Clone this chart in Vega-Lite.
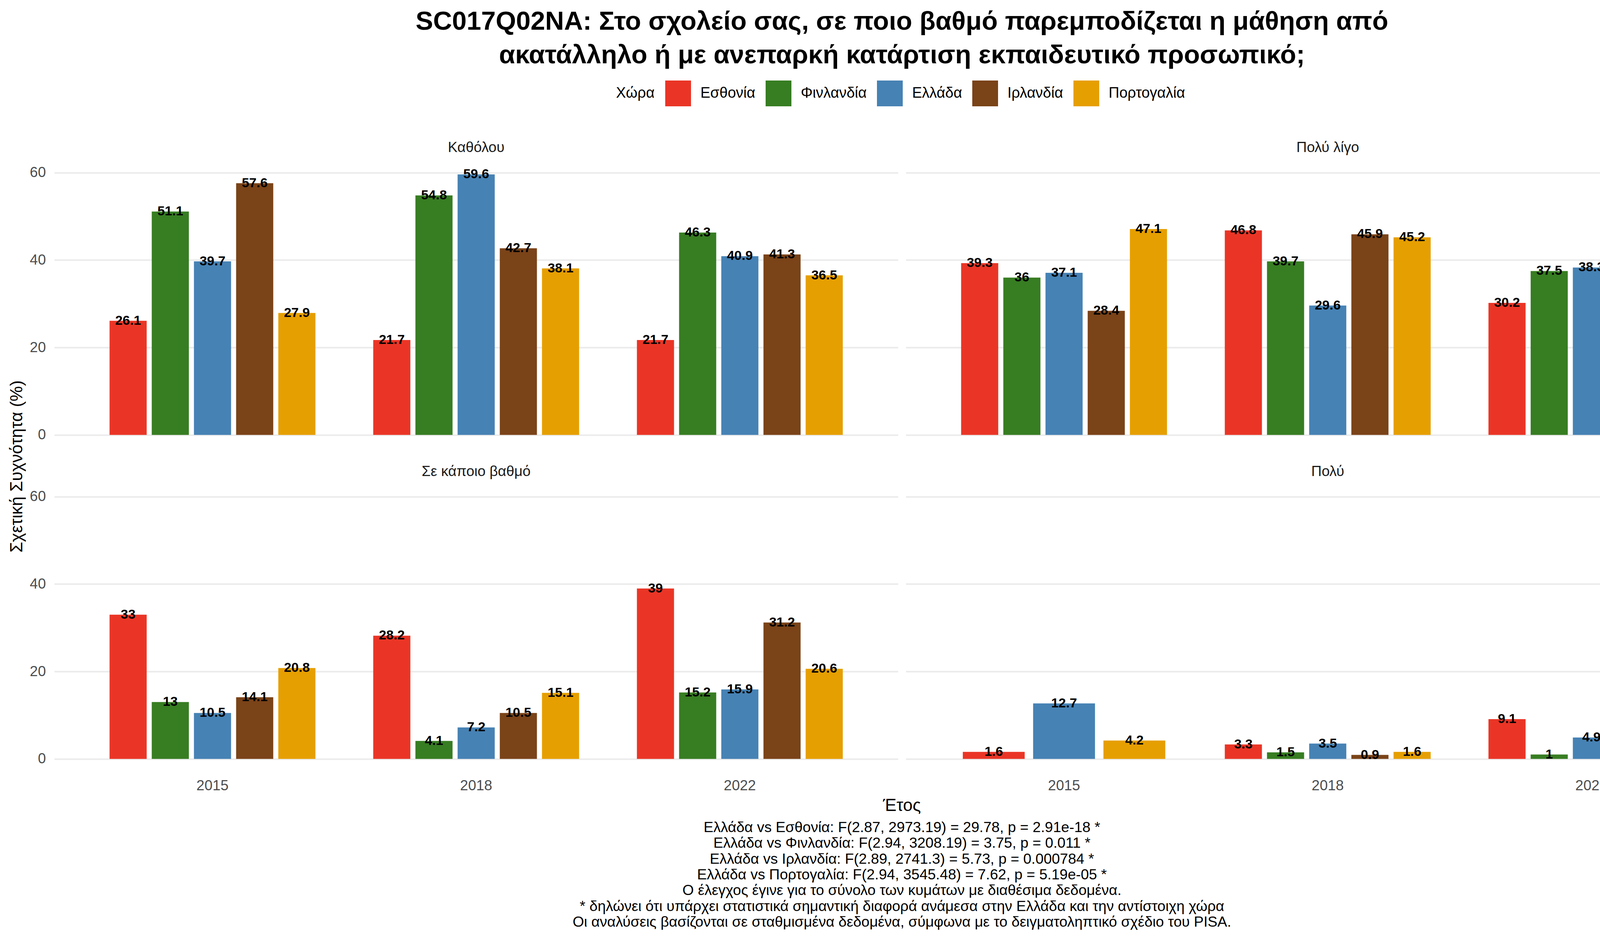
{
  "$schema": "https://vega.github.io/schema/vega-lite/v6.json",
  "padding": {"left": 21, "top": 0, "right": 0, "bottom": 0},
  "config": {
    "font": "Liberation Sans",
    "view": {"stroke": null, "fill": "white"}
  },
  "datasets": {
    "freq": [
      {"panel": "Καθόλου", "year": "2015", "country": "Εσθονία", "value": 26.1},
      {"panel": "Καθόλου", "year": "2015", "country": "Φινλανδία", "value": 51.1},
      {"panel": "Καθόλου", "year": "2015", "country": "Ελλάδα", "value": 39.7},
      {"panel": "Καθόλου", "year": "2015", "country": "Ιρλανδία", "value": 57.6},
      {"panel": "Καθόλου", "year": "2015", "country": "Πορτογαλία", "value": 27.9},
      {"panel": "Καθόλου", "year": "2018", "country": "Εσθονία", "value": 21.7},
      {"panel": "Καθόλου", "year": "2018", "country": "Φινλανδία", "value": 54.8},
      {"panel": "Καθόλου", "year": "2018", "country": "Ελλάδα", "value": 59.6},
      {"panel": "Καθόλου", "year": "2018", "country": "Ιρλανδία", "value": 42.7},
      {"panel": "Καθόλου", "year": "2018", "country": "Πορτογαλία", "value": 38.1},
      {"panel": "Καθόλου", "year": "2022", "country": "Εσθονία", "value": 21.7},
      {"panel": "Καθόλου", "year": "2022", "country": "Φινλανδία", "value": 46.3},
      {"panel": "Καθόλου", "year": "2022", "country": "Ελλάδα", "value": 40.9},
      {"panel": "Καθόλου", "year": "2022", "country": "Ιρλανδία", "value": 41.3},
      {"panel": "Καθόλου", "year": "2022", "country": "Πορτογαλία", "value": 36.5},
      {"panel": "Πολύ λίγο", "year": "2015", "country": "Εσθονία", "value": 39.3},
      {"panel": "Πολύ λίγο", "year": "2015", "country": "Φινλανδία", "value": 36},
      {"panel": "Πολύ λίγο", "year": "2015", "country": "Ελλάδα", "value": 37.1},
      {"panel": "Πολύ λίγο", "year": "2015", "country": "Ιρλανδία", "value": 28.4},
      {"panel": "Πολύ λίγο", "year": "2015", "country": "Πορτογαλία", "value": 47.1},
      {"panel": "Πολύ λίγο", "year": "2018", "country": "Εσθονία", "value": 46.8},
      {"panel": "Πολύ λίγο", "year": "2018", "country": "Φινλανδία", "value": 39.7},
      {"panel": "Πολύ λίγο", "year": "2018", "country": "Ελλάδα", "value": 29.6},
      {"panel": "Πολύ λίγο", "year": "2018", "country": "Ιρλανδία", "value": 45.9},
      {"panel": "Πολύ λίγο", "year": "2018", "country": "Πορτογαλία", "value": 45.2},
      {"panel": "Πολύ λίγο", "year": "2022", "country": "Εσθονία", "value": 30.2},
      {"panel": "Πολύ λίγο", "year": "2022", "country": "Φινλανδία", "value": 37.5},
      {"panel": "Πολύ λίγο", "year": "2022", "country": "Ελλάδα", "value": 38.3},
      {"panel": "Πολύ λίγο", "year": "2022", "country": "Ιρλανδία", "value": 23.1},
      {"panel": "Πολύ λίγο", "year": "2022", "country": "Πορτογαλία", "value": 39.1},
      {"panel": "Σε κάποιο βαθμό", "year": "2015", "country": "Εσθονία", "value": 33},
      {"panel": "Σε κάποιο βαθμό", "year": "2015", "country": "Φινλανδία", "value": 13},
      {"panel": "Σε κάποιο βαθμό", "year": "2015", "country": "Ελλάδα", "value": 10.5},
      {"panel": "Σε κάποιο βαθμό", "year": "2015", "country": "Ιρλανδία", "value": 14.1},
      {"panel": "Σε κάποιο βαθμό", "year": "2015", "country": "Πορτογαλία", "value": 20.8},
      {"panel": "Σε κάποιο βαθμό", "year": "2018", "country": "Εσθονία", "value": 28.2},
      {"panel": "Σε κάποιο βαθμό", "year": "2018", "country": "Φινλανδία", "value": 4.1},
      {"panel": "Σε κάποιο βαθμό", "year": "2018", "country": "Ελλάδα", "value": 7.2},
      {"panel": "Σε κάποιο βαθμό", "year": "2018", "country": "Ιρλανδία", "value": 10.5},
      {"panel": "Σε κάποιο βαθμό", "year": "2018", "country": "Πορτογαλία", "value": 15.1},
      {"panel": "Σε κάποιο βαθμό", "year": "2022", "country": "Εσθονία", "value": 39},
      {"panel": "Σε κάποιο βαθμό", "year": "2022", "country": "Φινλανδία", "value": 15.2},
      {"panel": "Σε κάποιο βαθμό", "year": "2022", "country": "Ελλάδα", "value": 15.9},
      {"panel": "Σε κάποιο βαθμό", "year": "2022", "country": "Ιρλανδία", "value": 31.2},
      {"panel": "Σε κάποιο βαθμό", "year": "2022", "country": "Πορτογαλία", "value": 20.6},
      {"panel": "Πολύ", "year": "2015", "country": "Εσθονία", "value": 1.6},
      {"panel": "Πολύ", "year": "2015", "country": "Ελλάδα", "value": 12.7},
      {"panel": "Πολύ", "year": "2015", "country": "Πορτογαλία", "value": 4.2},
      {"panel": "Πολύ", "year": "2018", "country": "Εσθονία", "value": 3.3},
      {"panel": "Πολύ", "year": "2018", "country": "Φινλανδία", "value": 1.5},
      {"panel": "Πολύ", "year": "2018", "country": "Ελλάδα", "value": 3.5},
      {"panel": "Πολύ", "year": "2018", "country": "Ιρλανδία", "value": 0.9},
      {"panel": "Πολύ", "year": "2018", "country": "Πορτογαλία", "value": 1.6},
      {"panel": "Πολύ", "year": "2022", "country": "Εσθονία", "value": 9.1},
      {"panel": "Πολύ", "year": "2022", "country": "Φινλανδία", "value": 1},
      {"panel": "Πολύ", "year": "2022", "country": "Ελλάδα", "value": 4.9},
      {"panel": "Πολύ", "year": "2022", "country": "Ιρλανδία", "value": 4.3},
      {"panel": "Πολύ", "year": "2022", "country": "Πορτογαλία", "value": 3.7}
    ],
    "heading": [
      {"line": "1", "text": "SC017Q02NA: Στο σχολείο σας, σε ποιο βαθμό παρεμποδίζεται η μάθηση από"},
      {"line": "2", "text": "ακατάλληλο ή με ανεπαρκή κατάρτιση εκπαιδευτικό προσωπικό;"}
    ],
    "notes": [
      {"line": "1", "text": "Ελλάδα vs Εσθονία: F(2.87, 2973.19) = 29.78, p = 2.91e-18 *"},
      {"line": "2", "text": "Ελλάδα vs Φινλανδία: F(2.94, 3208.19) = 3.75, p = 0.011 *"},
      {"line": "3", "text": "Ελλάδα vs Ιρλανδία: F(2.89, 2741.3) = 5.73, p = 0.000784 *"},
      {"line": "4", "text": "Ελλάδα vs Πορτογαλία: F(2.94, 3545.48) = 7.62, p = 5.19e-05 *"},
      {"line": "5", "text": "Ο έλεγχος έγινε για το σύνολο των κυμάτων με διαθέσιμα δεδομένα."},
      {"line": "6", "text": "* δηλώνει ότι υπάρχει στατιστικά σημαντική διαφορά ανάμεσα στην Ελλάδα και την αντίστοιχη χώρα"},
      {"line": "7", "text": "Οι αναλύσεις βασίζονται σε σταθμισμένα δεδομένα, σύμφωνα με το δειγματοληπτικό σχέδιο του PISA."}
    ]
  },
  "spacing": 12,
  "vconcat": [
    {
      "width": 4340,
      "height": 347,
      "data": {"name": "heading"},
      "layer": [
        {
          "mark": {"type": "text", "fontSize": 67, "fontWeight": "bold", "color": "black", "align": "center", "baseline": "middle"},
          "encoding": {
            "x": {"datum": 0.5, "type": "quantitative", "scale": {"domain": [0, 1]}, "axis": null},
            "y": {"field": "line", "type": "ordinal", "axis": null, "scale": {"type": "band", "paddingInner": 0, "paddingOuter": 1.2532, "align": 0.07}},
            "text": {"field": "text"}
          }
        },
        {
          "data": {"values": [{"part": "PISA"}]},
          "mark": {"type": "text", "fontSize": 50, "fontWeight": "bold", "color": "#EE4527", "align": "right", "baseline": "middle", "dy": -15},
          "encoding": {
            "x": {"datum": 0.9779, "type": "quantitative"},
            "y": {"datum": "1", "type": "ordinal"},
            "text": {"field": "part"}
          }
        },
        {
          "data": {"values": [{"part": "4"}]},
          "mark": {"type": "point", "filled": false, "stroke": "#24468F", "strokeWidth": 6, "opacity": 1, "size": 2500,
            "shape": "M-0.35,-0.8H0.35A0.15,0.15 0 0 1 0.5,-0.65V0.05A0.15,0.15 0 0 1 0.35,0.2H-0.35A0.15,0.15 0 0 1 -0.5,0.05V-0.65A0.15,0.15 0 0 1 -0.35,-0.8Z"},
          "encoding": {
            "x": {"datum": 0.9855, "type": "quantitative"},
            "y": {"datum": "1", "type": "ordinal"}
          }
        },
        {
          "data": {"values": [{"part": "4"}]},
          "mark": {"type": "text", "fontSize": 42, "fontWeight": "bold", "color": "#1F57A4", "align": "center", "baseline": "middle", "dy": -15},
          "encoding": {
            "x": {"datum": 0.9855, "type": "quantitative"},
            "y": {"datum": "1", "type": "ordinal"},
            "text": {"field": "part"}
          }
        },
        {
          "data": {"values": [{"part": "U"}]},
          "mark": {"type": "text", "fontSize": 52, "fontWeight": "bold", "color": "#43AC4A", "align": "center", "baseline": "middle", "dy": -15},
          "encoding": {
            "x": {"datum": 0.9977, "type": "quantitative"},
            "y": {"datum": "1", "type": "ordinal"},
            "text": {"field": "part"}
          }
        }
      ]
    },
    {
      "data": {"name": "freq"},
      "title": {"text": "Σχετική Συχνότητα (%)", "orient": "left", "anchor": "middle", "fontSize": 44, "fontWeight": "normal", "color": "black", "offset": 10, "frame": "bounds"},
      "facet": {
        "field": "panel",
        "type": "nominal",
        "sort": ["Καθόλου", "Πολύ λίγο", "Σε κάποιο βαθμό", "Πολύ"],
        "header": {"title": null, "labelFontSize": 37, "labelColor": "#1A1A1A", "labelPadding": 16}
      },
      "columns": 2,
      "spacing": {"row": 42, "column": 20},
      "spec": {
        "width": 2160,
        "height": 733,
        "encoding": {
          "x": {
            "field": "year",
            "type": "ordinal",
            "title": null,
            "scale": {"paddingInner": 0.2, "paddingOuter": 0.2},
            "axis": {"domain": false, "ticks": false, "tickSize": 0, "grid": false, "labelAngle": 0, "labelFontSize": 37, "labelColor": "#4D4D4D", "labelPadding": 17}
          },
          "y": {
            "field": "value",
            "type": "quantitative",
            "title": null,
            "scale": {"domain": [-2.98, 62.58], "nice": false, "zero": false},
            "axis": {"values": [0, 20, 40, 60], "grid": true, "gridColor": "#EBEBEB", "gridWidth": 4, "domain": false, "ticks": false, "tickSize": 0, "labelFontSize": 37, "labelColor": "#4D4D4D", "labelPadding": 22}
          },
          "color": {
            "field": "country",
            "type": "nominal",
            "scale": {
              "domain": ["Εσθονία", "Φινλανδία", "Ελλάδα", "Ιρλανδία", "Πορτογαλία"],
              "range": ["#EA3526", "#377D22", "#4682B4", "#7A4318", "#E69F00"]
            },
            "legend": {
              "title": "Χώρα",
              "orient": "none",
              "direction": "horizontal",
              "legendX": 1438,
              "legendY": 206,
              "titleOrient": "left",
              "titleFontSize": 38,
              "titleFontWeight": "normal",
              "titleColor": "black",
              "titlePadding": 27,
              "labelFontSize": 38,
              "labelColor": "black",
              "labelLimit": 1000,
              "labelOffset": 24,
              "columnPadding": 26,
              "symbolType": "square",
              "symbolSize": 4356,
              "symbolStrokeWidth": 0,
              "symbolOpacity": 1
            }
          }
        },
        "layer": [
          {
            "transform": [{"filter": "!(datum.panel == 'Πολύ' && datum.year == '2015')"}],
            "encoding": {
              "xOffset": {"field": "country", "type": "nominal", "sort": ["Εσθονία", "Φινλανδία", "Ελλάδα", "Ιρλανδία", "Πορτογαλία"], "scale": {"paddingInner": 0.12, "paddingOuter": 0.06}}
            },
            "layer": [
              {"mark": {"type": "bar"}, "encoding": {"y2": {"datum": 0}}},
              {
                "mark": {"type": "text", "fontSize": 34, "fontWeight": "bold", "baseline": "middle", "align": "center"},
                "encoding": {"text": {"field": "value", "type": "quantitative", "format": "~g"}, "color": {"value": "black"}}
              }
            ]
          },
          {
            "transform": [{"filter": "datum.panel == 'Πολύ' && datum.year == '2015'"}],
            "encoding": {
              "xOffset": {"field": "country", "type": "nominal", "sort": ["Εσθονία", "Φινλανδία", "Ελλάδα", "Ιρλανδία", "Πορτογαλία"], "scale": {"paddingInner": 0.12, "paddingOuter": 0.06}}
            },
            "layer": [
              {"mark": {"type": "bar"}, "encoding": {"y2": {"datum": 0}}},
              {
                "mark": {"type": "text", "fontSize": 34, "fontWeight": "bold", "baseline": "middle", "align": "center"},
                "encoding": {"text": {"field": "value", "type": "quantitative", "format": "~g"}, "color": {"value": "black"}}
              }
            ]
          }
        ],
        "resolve": {"scale": {"xOffset": "independent"}}
      }
    },
    {
      "width": 4340,
      "height": 282,
      "data": {"name": "notes"},
      "title": {"text": "Έτος", "fontSize": 44, "fontWeight": "normal", "color": "black", "anchor": "middle", "offset": 14, "frame": "group"},
      "mark": {"type": "text", "fontSize": 37.5, "color": "black", "align": "center", "baseline": "middle"},
      "encoding": {
        "x": {"datum": 0.5, "type": "quantitative", "scale": {"domain": [0, 1]}, "axis": null},
        "y": {"field": "line", "type": "ordinal", "axis": null, "scale": {"type": "band", "paddingInner": 0, "paddingOuter": 0}},
        "text": {"field": "text"}
      }
    }
  ]
}
